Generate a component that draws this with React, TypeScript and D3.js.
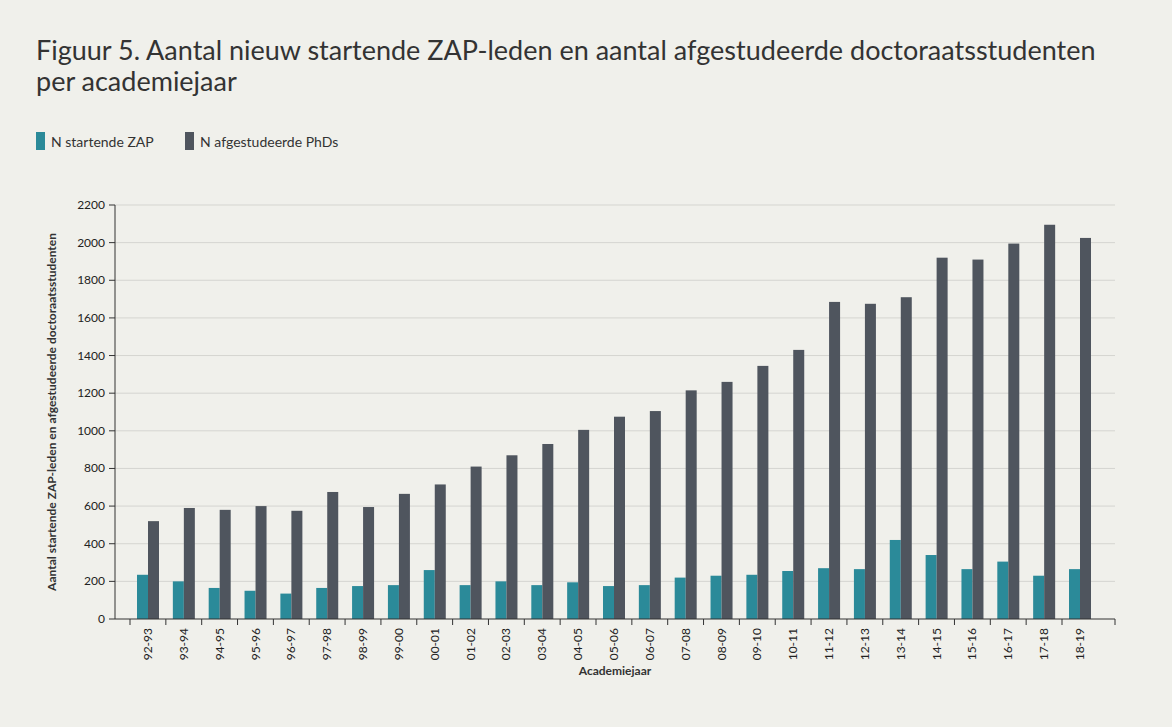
import React from 'react';
import * as d3 from 'd3';

const years = ['92-93','93-94','94-95','95-96','96-97','97-98','98-99','99-00','00-01','01-02','02-03','03-04','04-05','05-06','06-07','07-08','08-09','09-10','10-11','11-12','12-13','13-14','14-15','15-16','16-17','17-18','18-19'];
const zap = [235,200,165,150,135,165,175,180,260,180,200,180,195,175,180,220,230,235,255,270,265,420,340,265,305,230,265];
const phd = [520,590,580,600,575,675,595,665,715,810,870,930,1005,1075,1105,1215,1260,1345,1430,1685,1675,1710,1920,1910,1995,2095,2025];
const yTicks = d3.range(0, 2201, 200);

const TEAL = '#2b8a99';
const DARK = '#4f555e';

const App: React.FC = () => {
  const x = d3.scalePoint<string>().domain(years).range([148, 1080]);
  const y = d3.scaleLinear().domain([0, 2200]).range([619, 205]);
  const bw = 11;
  const font = 'Lato, "Open Sans", sans-serif';
  return (
    <svg width={1172} height={727} style={{ position: 'absolute', left: 0, top: 0, background: '#f0f0eb' }} fontFamily={font}>
      <rect width={1172} height={727} fill="#f0f0eb" />
      <text x={36} y={60} fontSize={27} fill="#333">Figuur 5. Aantal nieuw startende ZAP-leden en aantal afgestudeerde doctoraatsstudenten</text>
      <text x={36} y={91} fontSize={27} fill="#333">per academiejaar</text>
      <rect x={36} y={132} width={9} height={18} fill={TEAL} />
      <text x={51} y={147} fontSize={14} fill="#333">N startende ZAP</text>
      <rect x={185} y={132} width={9} height={18} fill={DARK} />
      <text x={200} y={147} fontSize={14} fill="#333">N afgestudeerde PhDs</text>
      {yTicks.map(t => (
        <g key={t}>
          {t > 0 && <line x1={115} x2={1115} y1={y(t)} y2={y(t)} stroke="#d5d5d0" />}
          <line x1={109} x2={115} y1={y(t)} y2={y(t)} stroke="#333" />
          <text x={105} y={y(t) + 4} fontSize={12} textAnchor="end" fill="#222">{t}</text>
        </g>
      ))}
      <line x1={115} x2={115} y1={205} y2={619} stroke="#333" />
      {years.map((yr, i) => (
        <g key={yr}>
          <rect x={x(yr)! - bw} y={y(zap[i])} width={bw} height={619 - y(zap[i])} fill={TEAL} />
          <rect x={x(yr)!} y={y(phd[i])} width={bw} height={619 - y(phd[i])} fill={DARK} />
          <line x1={x(yr)! - 18} x2={x(yr)! - 18} y1={619} y2={625} stroke="#333" />
          <text transform={`translate(${x(yr)! + 4},${628}) rotate(-90)`} fontSize={12} textAnchor="end" fill="#222">{yr}</text>
        </g>
      ))}
      <line x1={1115} x2={1115} y1={619} y2={625} stroke="#333" />
      <line x1={115} x2={1115} y1={619} y2={619} stroke="#333" />
      <text x={615} y={675} fontSize={12} fontWeight="bold" textAnchor="middle" fill="#333">Academiejaar</text>
      <text transform="translate(56,412) rotate(-90)" fontSize={12} fontWeight="bold" textAnchor="middle" fill="#333">Aantal startende ZAP-leden en afgestudeerde doctoraatsstudenten</text>
    </svg>
  );
};

export default App;
